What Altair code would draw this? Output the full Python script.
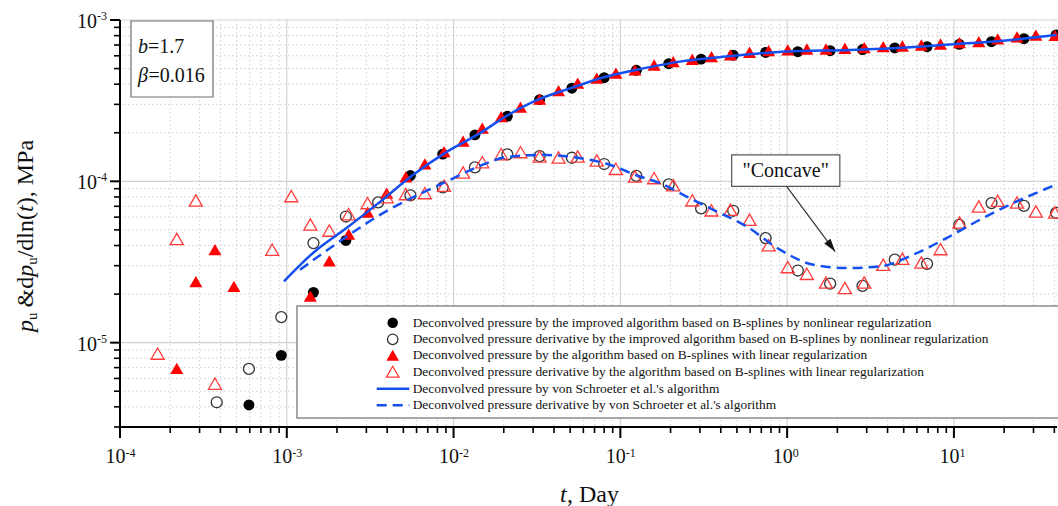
import math
import altair as alt
import pandas as pd

# ---------------- data (time in days, pressure in MPa) ----------------
# improved B-spline algorithm, nonlinear regularization: pressure
imp_p_t = [5.93e-4, 9.27e-4, 1.445e-3, 2.26e-3, 5.51e-3, 8.61e-3, 1.343e-2, 2.10e-2,
           3.28e-2, 5.12e-2, 8.0e-2, 0.1247, 0.195, 0.305, 0.475, 0.743, 1.159, 1.811,
           2.83, 4.42, 6.90, 10.77, 16.8, 26.3, 41.0]
imp_p_v = [4.11e-6, 8.34e-6, 2.05e-5, 4.30e-5, 1.086e-4, 1.474e-4, 1.941e-4, 2.53e-4,
           3.21e-4, 3.78e-4, 4.39e-4, 4.88e-4, 5.36e-4, 5.72e-4, 6.05e-4, 6.29e-4,
           6.36e-4, 6.45e-4, 6.56e-4, 6.71e-4, 6.83e-4, 7.07e-4, 7.34e-4, 7.66e-4, 8.07e-4]

# improved B-spline algorithm, nonlinear regularization: derivative
imp_d_t = [3.80e-4, 5.93e-4, 9.27e-4, 1.445e-3, 2.26e-3, 3.53e-3, 5.51e-3, 8.61e-3,
           1.343e-2, 2.10e-2, 3.28e-2, 5.12e-2, 8.0e-2, 0.1247, 0.195, 0.305, 0.475,
           0.743, 1.159, 1.811, 2.83, 4.42, 6.90, 10.77, 16.8, 26.3, 41.0]
imp_d_v = [4.27e-6, 6.87e-6, 1.44e-5, 4.14e-5, 6.05e-5, 7.41e-5, 8.19e-5, 9.16e-5,
           1.221e-4, 1.47e-4, 1.432e-4, 1.40e-4, 1.28e-4, 1.081e-4, 9.58e-5, 6.79e-5,
           6.57e-5, 4.45e-5, 2.80e-5, 2.32e-5, 2.25e-5, 3.27e-5, 3.08e-5, 5.38e-5,
           7.33e-5, 7.05e-5, 6.38e-5]

# B-spline algorithm, linear regularization: pressure
lin_p_t = [2.19e-4, 2.85e-4, 3.71e-4, 4.82e-4, 1.384e-3, 1.80e-3, 2.35e-3, 3.05e-3,
           3.97e-3, 5.17e-3, 6.73e-3, 8.77e-3, 1.141e-2, 1.486e-2, 1.93e-2, 2.52e-2,
           3.28e-2, 4.26e-2, 5.55e-2, 7.22e-2, 9.40e-2, 0.1224, 0.1594, 0.2075, 0.270,
           0.352, 0.457, 0.595, 0.775, 1.009, 1.313, 1.710, 2.22, 2.90, 3.77, 4.91,
           6.38, 8.31, 10.8, 14.1, 18.3, 23.9, 31.0, 40.4]
lin_p_v = [6.93e-6, 2.39e-5, 3.77e-5, 2.23e-5, 1.94e-5, 3.21e-5, 4.70e-5, 6.44e-5,
           8.45e-5, 1.066e-4, 1.283e-4, 1.529e-4, 1.777e-4, 2.135e-4, 2.52e-4, 2.88e-4,
           3.23e-4, 3.65e-4, 4.06e-4, 4.36e-4, 4.68e-4, 4.90e-4, 5.26e-4, 5.52e-4,
           5.71e-4, 5.93e-4, 6.07e-4, 6.31e-4, 6.46e-4, 6.52e-4, 6.61e-4, 6.61e-4,
           6.68e-4, 6.74e-4, 6.83e-4, 6.90e-4, 7.00e-4, 7.10e-4, 7.24e-4, 7.34e-4,
           7.63e-4, 7.85e-4, 8.07e-4, 8.02e-4]

# B-spline algorithm, linear regularization: derivative
lin_d_t = [1.68e-4, 2.19e-4, 2.85e-4, 3.71e-4, 8.17e-4, 1.064e-3, 1.384e-3, 1.80e-3,
           2.35e-3, 3.05e-3, 3.97e-3, 5.17e-3, 6.73e-3, 8.77e-3, 1.141e-2, 1.486e-2,
           1.93e-2, 2.52e-2, 3.28e-2, 4.26e-2, 5.55e-2, 7.22e-2, 9.40e-2, 0.1224,
           0.1594, 0.2075, 0.270, 0.352, 0.457, 0.595, 0.775, 1.009, 1.313, 1.710,
           2.22, 2.90, 3.77, 4.91, 6.38, 8.31, 10.8, 14.1, 18.3, 23.9, 31.0, 40.4]
lin_d_v = [8.55e-6, 4.39e-5, 7.60e-5, 5.57e-6, 3.77e-5, 8.10e-5, 5.40e-5, 4.95e-5,
           6.26e-5, 7.33e-5, 7.98e-5, 8.33e-5, 8.45e-5, 9.38e-5, 1.134e-4, 1.315e-4,
           1.474e-4, 1.517e-4, 1.424e-4, 1.404e-4, 1.424e-4, 1.345e-4, 1.195e-4,
           1.071e-4, 1.047e-4, 9.45e-5, 7.62e-5, 6.61e-5, 6.66e-5, 5.78e-5, 4.02e-5,
           2.94e-5, 2.67e-5, 2.36e-5, 2.18e-5, 2.36e-5, 3.04e-5, 3.31e-5, 3.14e-5,
           3.80e-5, 5.56e-5, 6.98e-5, 7.57e-5, 7.39e-5, 6.50e-5, 6.41e-5]

# von Schroeter et al.: pressure (solid) and derivative (dashed)
vs_p_t = [9.62e-4, 1.442e-3, 2.29e-3, 3.62e-3, 5.73e-3, 9.09e-3, 1.439e-2, 2.08e-2,
          3.26e-2, 5.05e-2, 7.97e-2, 0.124, 0.2275, 0.395, 0.993, 2.38, 4.31, 9.86,
          18.9, 41.3]
vs_p_v = [2.40e-5, 3.61e-5, 5.15e-5, 7.46e-5, 1.097e-4, 1.523e-4, 1.988e-4, 2.544e-4,
          3.23e-4, 3.78e-4, 4.42e-4, 4.90e-4, 5.52e-4, 5.88e-4, 6.38e-4, 6.52e-4,
          6.68e-4, 7.07e-4, 7.41e-4, 8.10e-4]
vs_d_t = [1.20e-3, 2.29e-3, 3.62e-3, 5.73e-3, 9.09e-3, 1.439e-2, 2.08e-2, 3.30e-2,
          5.22e-2, 8.28e-2, 0.131, 0.1727, 0.2496, 0.3604, 0.5715, 0.905, 1.433, 2.27,
          3.60, 5.70, 9.04, 14.31, 22.7, 41.4]
vs_d_v = [2.83e-5, 4.55e-5, 6.20e-5, 7.98e-5, 9.97e-5, 1.247e-4, 1.412e-4, 1.459e-4,
          1.412e-4, 1.284e-4, 1.071e-4, 9.75e-5, 8.05e-5, 6.66e-5, 5.25e-5, 3.77e-5,
          3.04e-5, 2.90e-5, 2.97e-5, 3.51e-5, 4.45e-5, 5.78e-5, 7.33e-5, 9.58e-5]

# "Concave" callout: box corners, label anchor and arrow (start -> tip)
note_box_t = [0.465, 2.07]
note_box_v = [1.459e-4, 9.3e-5]
note_label_t = [0.981]
note_label_v = [1.161e-4]
arrow_t = [0.993, 1.94]
arrow_v = [9.3e-5, 3.67e-5]

# decade tick labels
x_decades = [1e-4, 1e-3, 1e-2, 1e-1, 1.0, 10.0]
x_exponents = ["-4", "-3", "-2", "-1", "0", "1"]
y_decades = [1e-5, 1e-4, 1e-3]
y_exponents = ["-5", "-4", "-3"]

legend_labels = [
    "Deconvolved pressure by the improved algorithm based on B-splines by nonlinear regularization",
    "Deconvolved pressure derivative by the improved algorithm based on B-splines by nonlinear regularization",
    "Deconvolved pressure by the algorithm based on B-splines with linear regularization",
    "Deconvolved pressure derivative by the algorithm based on B-splines with linear regularization",
    "Deconvolved pressure by von Schroeter et al.'s algorithm",
    "Deconvolved pressure derivative by von Schroeter et al.'s algorithm",
]

# ---------------- styling ----------------
W, H = 937, 407
FONT = "Liberation Serif"
BLUE = "#1450f0"
RED = "#ff0000"
RED_OPEN = "#ff3b3b"
INK = "#111111"

X_MIN, X_MAX = 1e-4, 41.5
Y_MIN, Y_MAX = 3e-6, 1e-3
XS = alt.Scale(type="log", domain=[X_MIN, X_MAX], nice=False)
YS = alt.Scale(type="log", domain=[Y_MIN, Y_MAX], nice=False)


def log_ticks(lo, hi):
    """1..9 x 10^k tick positions inside [lo, hi], split into decades and the rest."""
    major, minor = [], []
    for e in range(math.floor(math.log10(lo)), math.ceil(math.log10(hi)) + 1):
        for m in range(1, 10):
            v = m * 10.0 ** e
            if lo * 0.999 <= v <= hi * 1.001:
                (major if m == 1 else minor).append(v)
    return major, minor


x_major, x_minor = log_ticks(X_MIN, X_MAX)
y_major, y_minor = log_ticks(Y_MIN, Y_MAX)

ONE = pd.DataFrame({"k": [0]})


def X(field="t"):
    return alt.X(f"{field}:Q", scale=XS, axis=None)


def Y(field="v"):
    return alt.Y(f"{field}:Q", scale=YS, axis=None)


def frame(t, v):
    return pd.DataFrame({"t": t, "v": v})


layers = []

# ---- grid ----
grid_minor = dict(color="#c9c9c9", strokeWidth=0.9, strokeDash=[1.5, 2.5])
grid_major = dict(color="#d2d2d2", strokeWidth=1.2)
layers.append(alt.Chart(pd.DataFrame({"t": x_minor})).mark_rule(**grid_minor)
              .encode(x=X(), y=alt.value(0), y2=alt.value(H)))
layers.append(alt.Chart(pd.DataFrame({"v": y_minor})).mark_rule(**grid_minor)
              .encode(y=Y(), x=alt.value(0), x2=alt.value(W)))
layers.append(alt.Chart(pd.DataFrame({"t": x_major})).mark_rule(**grid_major)
              .encode(x=X(), y=alt.value(0), y2=alt.value(H)))
layers.append(alt.Chart(pd.DataFrame({"v": y_major})).mark_rule(**grid_major)
              .encode(y=Y(), x=alt.value(0), x2=alt.value(W)))

# ---- data series ----
layers.append(alt.Chart(frame(imp_p_t, imp_p_v)).mark_point(
    shape="circle", filled=True, color="black", size=120, opacity=1).encode(x=X(), y=Y()))
layers.append(alt.Chart(frame(imp_d_t, imp_d_v)).mark_point(
    shape="circle", filled=False, color="#333333", strokeWidth=1.3, size=120, opacity=1)
    .encode(x=X(), y=Y()))
layers.append(alt.Chart(frame(lin_p_t, lin_p_v)).mark_point(
    shape="triangle-up", filled=True, color=RED, size=170, opacity=1).encode(x=X(), y=Y()))
layers.append(alt.Chart(frame(lin_d_t, lin_d_v)).mark_point(
    shape="triangle-up", filled=False, color=RED_OPEN, strokeWidth=1.3, size=170, opacity=1)
    .encode(x=X(), y=Y()))
layers.append(alt.Chart(frame(vs_p_t, vs_p_v)).mark_line(
    color=BLUE, strokeWidth=2.5, interpolate="monotone").encode(x=X(), y=Y()))
layers.append(alt.Chart(frame(vs_d_t, vs_d_v)).mark_line(
    color=BLUE, strokeWidth=2.5, strokeDash=[10, 6], interpolate="monotone")
    .encode(x=X(), y=Y()))

# ---- axis lines and ticks (left and bottom) ----
layers.append(alt.Chart(ONE).mark_rule(color="black", strokeWidth=2).encode(
    x=alt.value(0), x2=alt.value(W), y=alt.value(H)))
layers.append(alt.Chart(ONE).mark_rule(color="black", strokeWidth=2).encode(
    x=alt.value(0), y=alt.value(0), y2=alt.value(H)))
layers.append(alt.Chart(pd.DataFrame({"t": x_major})).mark_rule(color="black", strokeWidth=2)
              .encode(x=X(), y=alt.value(H), y2=alt.value(H + 11)))
layers.append(alt.Chart(pd.DataFrame({"t": x_minor})).mark_rule(color="black", strokeWidth=1.6)
              .encode(x=X(), y=alt.value(H), y2=alt.value(H + 6)))
layers.append(alt.Chart(pd.DataFrame({"v": y_major})).mark_rule(color="black", strokeWidth=2)
              .encode(y=Y(), x=alt.value(-10), x2=alt.value(0)))
layers.append(alt.Chart(pd.DataFrame({"v": y_minor})).mark_rule(color="black", strokeWidth=1.6)
              .encode(y=Y(), x=alt.value(-6), x2=alt.value(0)))

# ---- tick labels: "10" plus a raised exponent ----
layers.append(alt.Chart(pd.DataFrame({"t": x_decades})).mark_text(
    font=FONT, fontSize=20, align="right", baseline="alphabetic", dx=5.5, color=INK
).encode(x=X(), y=alt.value(H + 36), text=alt.value("10")))
layers.append(alt.Chart(pd.DataFrame({"t": x_decades, "e": x_exponents})).mark_text(
    font=FONT, fontSize=12, align="left", baseline="alphabetic", dx=5.5, color=INK
).encode(x=X(), y=alt.value(H + 30), text="e:N"))
layers.append(alt.Chart(pd.DataFrame({"v": y_decades})).mark_text(
    font=FONT, fontSize=20, align="right", baseline="alphabetic", dy=8, color=INK
).encode(y=Y(), x=alt.value(-23), text=alt.value("10")))
layers.append(alt.Chart(pd.DataFrame({"v": y_decades, "e": y_exponents})).mark_text(
    font=FONT, fontSize=12, align="left", baseline="alphabetic", dy=0, color=INK
).encode(y=Y(), x=alt.value(-23), text="e:N"))

# ---- axis titles, built from pieces so symbols can be italic and indices lowered ----
y_title = [  # text, italic, size, x, y (text runs upward from y)
    ("p", True, 24, -87, 312),
    ("u", False, 15, -83, 300),
    ("&d", False, 24, -87, 287.5),
    ("p", True, 24, -87, 256.8),
    ("u", False, 15, -83, 244.8),
    ("/dln(", False, 24, -87, 237.3),
    ("t", True, 24, -87, 192),
    ("), MPa", False, 24, -87, 185.3),
]
for txt, ital, size, px, py in y_title:
    layers.append(alt.Chart(ONE).mark_text(
        font=FONT, fontSize=size, fontStyle="italic" if ital else "normal",
        angle=270, align="left", baseline="alphabetic", color=INK
    ).encode(x=alt.value(px), y=alt.value(py), text=alt.value(txt)))

for txt, ital, px in [("t", True, 440), (", Day", False, 447)]:
    layers.append(alt.Chart(ONE).mark_text(
        font=FONT, fontSize=24, fontStyle="italic" if ital else "normal",
        align="left", baseline="alphabetic", color=INK
    ).encode(x=alt.value(px), y=alt.value(H + 75), text=alt.value(txt)))

# ---- parameter box ----
layers.append(alt.Chart(ONE).mark_rect(fill="white", stroke="#6e6e6e", strokeWidth=1.2).encode(
    x=alt.value(11), x2=alt.value(93), y=alt.value(1), y2=alt.value(77)))
for txt, ital, px, py in [("b", True, 18, 33), ("=1.7", False, 28, 33),
                          ("\u03b2", True, 18, 62), ("=0.016", False, 28.5, 62)]:
    layers.append(alt.Chart(ONE).mark_text(
        font=FONT, fontSize=20, fontStyle="italic" if ital else "normal",
        align="left", baseline="alphabetic", color=INK
    ).encode(x=alt.value(px), y=alt.value(py), text=alt.value(txt)))

# ---- "Concave" callout ----
layers.append(alt.Chart(pd.DataFrame({"t0": [note_box_t[0]], "t1": [note_box_t[1]],
                                      "v0": [note_box_v[0]], "v1": [note_box_v[1]]}))
              .mark_rect(fill="white", stroke="#555555", strokeWidth=1.2)
              .encode(x=X("t0"), x2="t1:Q", y=Y("v0"), y2="v1:Q"))
layers.append(alt.Chart(frame(note_label_t, note_label_v)).mark_text(
    font=FONT, fontSize=20, align="center", baseline="middle", color=INK
).encode(x=X(), y=Y(), text=alt.value('"Concave"')))
layers.append(alt.Chart(pd.DataFrame({"t0": [arrow_t[0]], "t1": [arrow_t[1]],
                                      "v0": [arrow_v[0]], "v1": [arrow_v[1]]}))
              .mark_rule(color="#333333", strokeWidth=1.2)
              .encode(x=X("t0"), x2="t1:Q", y=Y("v0"), y2="v1:Q"))
layers.append(alt.Chart(frame(arrow_t[1:], arrow_v[1:])).mark_point(
    shape="M0,0L-0.6,-2L0.6,-2Z", filled=True, color=INK, size=169,
    angle=323.4, opacity=1).encode(x=X(), y=Y()))

# ---- legend panel ----
layers.append(alt.Chart(ONE).mark_rect(fill="white", stroke="#8a8a8a", strokeWidth=1.5).encode(
    x=alt.value(177), x2=alt.value(945), y=alt.value(286), y2=alt.value(398)))
rows = [302.7, 319.3, 335.3, 351.7, 368.7, 385.3]
sym_x = 272.7
layers.append(alt.Chart(ONE).mark_point(shape="circle", filled=True, color="black",
                                        size=110, opacity=1)
              .encode(x=alt.value(sym_x), y=alt.value(rows[0])))
layers.append(alt.Chart(ONE).mark_point(shape="circle", filled=False, color="#333333",
                                        strokeWidth=1.3, size=110, opacity=1)
              .encode(x=alt.value(sym_x), y=alt.value(rows[1])))
layers.append(alt.Chart(ONE).mark_point(shape="triangle-up", filled=True, color=RED,
                                        size=160, opacity=1)
              .encode(x=alt.value(sym_x), y=alt.value(rows[2])))
layers.append(alt.Chart(ONE).mark_point(shape="triangle-up", filled=False, color=RED_OPEN,
                                        strokeWidth=1.3, size=160, opacity=1)
              .encode(x=alt.value(sym_x), y=alt.value(rows[3])))
layers.append(alt.Chart(ONE).mark_rule(color=BLUE, strokeWidth=2.5).encode(
    x=alt.value(256.7), x2=alt.value(289.3), y=alt.value(rows[4])))
layers.append(alt.Chart(ONE).mark_rule(color=BLUE, strokeWidth=2.5, strokeDash=[10, 6]).encode(
    x=alt.value(256.7), x2=alt.value(289.3), y=alt.value(rows[5])))
for label, ry in zip(legend_labels, rows):
    layers.append(alt.Chart(ONE).mark_text(
        font=FONT, fontSize=13.4, align="left", baseline="middle", color=INK
    ).encode(x=alt.value(292.7), y=alt.value(ry), text=alt.value(label)))

chart = alt.layer(*layers).properties(
    width=W, height=H,
    autosize=alt.AutoSizeParams(type="none"),
    padding={"left": 120, "top": 20, "right": 1, "bottom": 79},
    background="white",
).configure_view(stroke=None).configure_text(font=FONT)

chart.save("out.html", embed_options={"renderer": "svg", "actions": False})
